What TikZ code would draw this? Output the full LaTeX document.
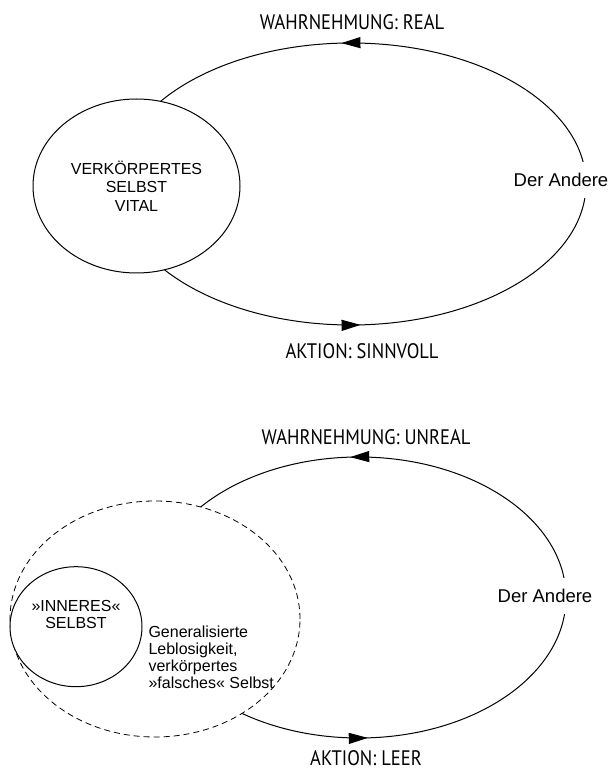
\documentclass[tikz,border=0pt]{standalone}
\usepackage{fontspec}
\setmainfont{Liberation Sans}
\newfontfamily\condfont[FakeStretch=0.88]{PT Sans}
\usepackage{tikz}
\usetikzlibrary{arrows.meta,shapes,positioning,decorations.markings}
\tikzstyle{self} = [ellipse, draw, line width=1pt, fill=white, align=center, inner sep=0pt, font=\fontsize{16}{18.5}\selectfont]
\tikzstyle{other} = [fill=white, inner xsep=1pt, inner ysep=11pt, font=\fontsize{18.5}{20}\selectfont]
\tikzstyle{caption} = [anchor=base, inner sep=0pt, font=\condfont\fontsize{21}{23}\selectfont]
\tikzstyle{loopline} = [draw, line width=1pt, postaction={decorate}, decoration={markings,
  mark=at position 0.258 with {\arrow{Triangle[length=19pt,width=11pt]}},
  mark=at position 0.758 with {\arrow{Triangle[length=19pt,width=11pt]}}}]

\begin{document}
\begin{tikzpicture}[x=1pt, y=1pt]
\useasboundingbox (0,0) rectangle (610,772);

% Vital self
\draw[loopline] (351,588) ellipse [x radius=235pt, y radius=141pt];
\node (vital) [self, minimum width=207pt, minimum height=174pt] at (136.5,586) {VERKÖRPERTES\\SELBST\\VITAL};
\node (andereA) [other] at (561,592) {Der Andere};
\node (wahrA) [caption] at (352,742) {WAHRNEHMUNG: REAL};
\node (aktionA) [caption] at (362,413) {AKTION: SINNVOLL};

% False self
\draw[loopline] (359,174.5) ellipse [x radius=207pt, y radius=140.5pt];
\node (falsch) [self, dash pattern=on 6pt off 4pt, line width=0.8pt, minimum width=290pt, minimum height=236pt] at (155,153) {};
\node (inner) [self, minimum width=132pt, minimum height=120pt] at (76,145.3) {};
\node (innertext) [font=\fontsize{16}{17}\selectfont, align=center] at (76,158) {»INNERES«\\SELBST};
\node (leblos) [anchor=west, align=left, font=\fontsize{16}{17}\selectfont] at (145,115) {Generalisierte\\Leblosigkeit,\\verkörpertes\\»falsches« Selbst};
\node (andereB) [other] at (545,176) {Der Andere};
\node (wahrB) [caption] at (366,327) {WAHRNEHMUNG: UNREAL};
\node (aktionB) [caption] at (366,6) {AKTION: LEER};
\end{tikzpicture}
\end{document}
